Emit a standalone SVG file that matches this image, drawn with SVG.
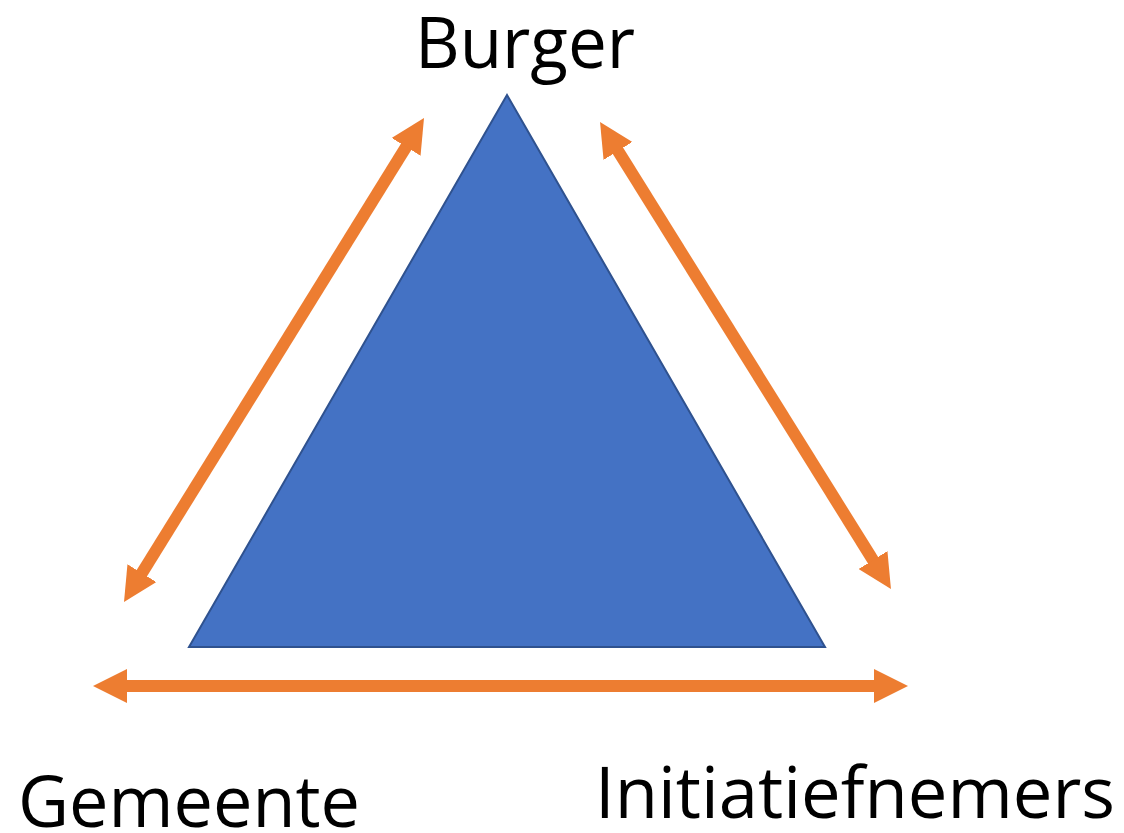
<svg xmlns="http://www.w3.org/2000/svg" width="1124" height="833" viewBox="0 0 1124 833">
<style>
.lbl{font-family:"Open Sans","Noto Sans","Liberation Sans",sans-serif;font-size:72px;fill:#000}
.arr{stroke:#ED7D31;stroke-width:12;fill:none;marker-start:url(#ah);marker-end:url(#ah)}
</style>
<defs>
<marker id="ah" markerUnits="userSpaceOnUse" markerWidth="34" markerHeight="34" viewBox="0 0 34 34" refX="4" refY="17" orient="auto-start-reverse">
<path d="M0,0 L34,17 L0,34 z" fill="#ED7D31"/>
</marker>
</defs>
<rect width="1124" height="833" fill="#fff"/>
<g id="triangle">
<polygon points="507,95 189,647 825,647" fill="#4472C4" stroke="#2F528F" stroke-width="2"/>
</g>
<g id="connectors">
<line class="arr" x1="139.8" y1="576.5" x2="408.2" y2="143.5"/>
<line class="arr" x1="615.9" y1="147.5" x2="875.1" y2="563.5"/>
<line class="arr" x1="123" y1="686" x2="878" y2="686"/>
</g>
<g id="burger"><text class="lbl" x="415" y="68" textLength="220" lengthAdjust="spacingAndGlyphs">Burger</text></g>
<g id="gemeente"><text class="lbl" x="18" y="827" textLength="342" lengthAdjust="spacingAndGlyphs">Gemeente</text></g>
<g id="initiatiefnemers"><text class="lbl" x="595" y="818" textLength="520" lengthAdjust="spacingAndGlyphs">Initiatiefnemers</text></g>
</svg>
